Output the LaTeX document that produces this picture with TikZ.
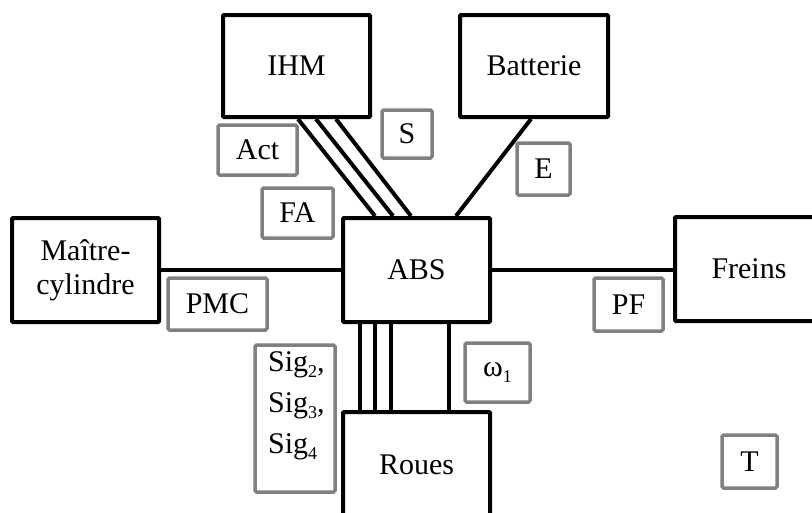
\documentclass[tikz,border=0pt]{standalone}
\usepackage{fontspec}
\setmainfont{Liberation Serif}
\newcommand{\sbs}[1]{\raisebox{-0.5ex}{\fontsize{18}{18}\selectfont #1}}
\begin{document}
\begin{tikzpicture}[x=1pt,y=-1pt,
 blk/.style={draw=black,line width=4pt,rounded corners=1pt,fill=white,inner sep=0pt,align=center,font=\fontsize{30}{34}\selectfont},
 lbl/.style={draw={rgb,255:red,128;green,128;blue,128},line width=3.5pt,rounded corners=1.5pt,inner sep=0pt,align=center,font=\fontsize{30}{34}\selectfont},
 wire/.style={line width=4pt}]
\useasboundingbox (0,0) rectangle (812,512);
% main boxes
\node[blk,minimum width=147pt,minimum height=102pt] (ihm) at (296.5,66) {IHM};
\node[blk,minimum width=148pt,minimum height=102pt] (bat) at (534,66) {Batterie};
\node[blk,minimum width=147pt,minimum height=104pt] (abs) at (416.5,270) {ABS};
\node[blk,minimum width=147pt,minimum height=104pt] (mc) at (85.5,270) {Maître-\\cylindre};
\node[blk,minimum width=148pt,minimum height=104pt] (fr) at (749,269) {Freins};
\node[blk,minimum width=147pt,minimum height=106pt] (rou) at (416.5,465) {Roues};
% connectors
\draw[wire] ([xshift=77pt]ihm.south west) -- ([xshift=34pt]abs.north west);
\draw[wire] ([xshift=95pt]ihm.south west) -- ([xshift=52pt]abs.north west);
\draw[wire] ([xshift=115pt]ihm.south west) -- ([xshift=70pt]abs.north west);
\draw[wire] ([xshift=73pt]bat.south west) -- ([xshift=115pt]abs.north west);
\draw[wire] (mc.east) -- (abs.west);
\draw[wire] (abs.east) -- (fr.west |- abs.east);
\foreach \d in {19,34,50,108}
  \draw[wire] ([xshift=\d pt]abs.south west) -- ([xshift=\d pt]rou.north west);
% labels
\node[lbl,minimum width=79pt,minimum height=50pt] (act) at (257.5,150) {Act};
\node[lbl,minimum width=50pt,minimum height=48pt] (s) at (407,134) {S};
\node[lbl,minimum width=71pt,minimum height=50pt] (fa) at (297.5,213) {FA};
\node[lbl,minimum width=99pt,minimum height=52pt] (pmc) at (217.5,304) {PMC};
\node[lbl,minimum width=53pt,minimum height=52pt] (e) at (543.5,169) {E};
\node[lbl,minimum width=69pt,minimum height=53pt] (pf) at (628.5,304.5) {PF};
\node[lbl,minimum width=65pt,minimum height=59pt] (w) at (497.5,372.5) {ω\sbs{1}};
\node[lbl,minimum width=80pt,minimum height=147pt] (sig) at (295,418.5) {};
\node[anchor=north west,inner sep=0pt,align=left,font=\fontsize{30}{41}\selectfont] (sigt) at (268,351)
  {Sig\sbs{2},\\Sig\sbs{3},\\Sig\sbs{4}};
\node[lbl,minimum width=55pt,minimum height=53pt] (t) at (749.5,461.5) {T};
\end{tikzpicture}
\end{document}
